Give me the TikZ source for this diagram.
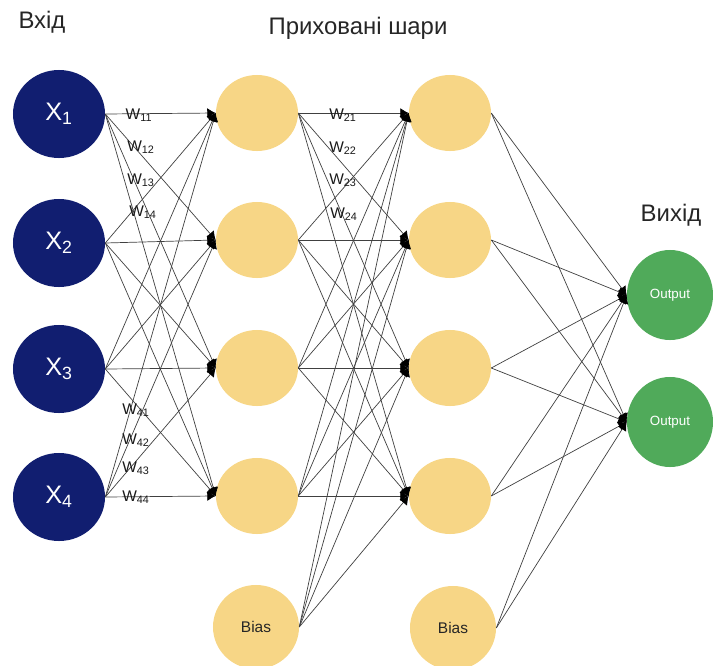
\documentclass[tikz,border=0pt]{standalone}
\usepackage{fontspec}
\setmainfont{Liberation Sans}
\usetikzlibrary{arrows.meta,shapes.geometric}

\definecolor{inblue}{RGB}{17,30,112}
\definecolor{hidyellow}{RGB}{247,214,134}
\definecolor{outgreen}{RGB}{80,170,90}

\begin{document}
\begin{tikzpicture}[
    x=0.025cm, y=-0.025cm,
    >={Latex[length=6pt,width=7pt,color=black]},
    % Styles for the neurons and links
    inneuron/.style={ellipse, fill=inblue, text=white, inner sep=0pt, minimum width=2.3cm, minimum height=2.2cm, font=\fontsize{18}{18}\selectfont},
    hidneuron/.style={ellipse, fill=hidyellow, inner sep=0pt, minimum width=2.05cm, minimum height=1.9cm},
    biasneuron/.style={hidneuron, minimum width=2.15cm, minimum height=2.1cm, text=black!85, font=\fontsize{11}{11}\selectfont},
    outneuron/.style={ellipse, fill=outgreen, text=white, inner sep=0pt, minimum width=2.15cm, minimum height=2.25cm, font=\fontsize{9.5}{9.5}\selectfont},
    link/.style={->, line width=0.5pt, draw=black!75},
    weight/.style={inner sep=0pt, text=black!90, font=\fontsize{11}{11}\selectfont},
    title/.style={inner sep=0pt, text=black!85, font=\fontsize{17}{17}\selectfont}
]
    \useasboundingbox (0,0) rectangle (713,666);

    % =========================================================================
    % 1. TITLES
    % =========================================================================
    \node[title] (t_in) at (42,22) {Вхід};
    \node[title] (t_hid) at (358,28) {Приховані шари};
    \node[title] (t_out) at (671,215) {Вихід};

    % =========================================================================
    % 2. INPUT LAYER
    % =========================================================================
    \node[inneuron] (x1) at (59,114) {X\textsubscript{1}};
    \node[inneuron] (x2) at (59,243) {X\textsubscript{2}};
    \node[inneuron] (x3) at (59,369) {X\textsubscript{3}};
    \node[inneuron] (x4) at (59,497) {X\textsubscript{4}};

    % =========================================================================
    % 3. HIDDEN LAYERS (with bias)
    % =========================================================================
    \node[hidneuron] (h1) at (257,113) {};
    \node[hidneuron] (h2) at (257,240) {};
    \node[hidneuron] (h3) at (257,368) {};
    \node[hidneuron] (h4) at (257,496) {};
    \node[biasneuron] (b1) at (256,627) {Bias};

    \node[hidneuron] (g1) at (450,113) {};
    \node[hidneuron] (g2) at (450,240) {};
    \node[hidneuron] (g3) at (450,368) {};
    \node[hidneuron] (g4) at (450,496) {};
    \node[biasneuron] (b2) at (453,628) {Bias};

    % =========================================================================
    % 4. OUTPUT LAYER
    % =========================================================================
    \node[outneuron] (o1) at (670,295) {Output};
    \node[outneuron] (o2) at (670,422) {Output};

    % =========================================================================
    % 5. LINKS
    % =========================================================================
    \foreach \i in {1,...,4}
        \foreach \j in {1,...,4} {
            \draw[link] (x\i.east) -- (h\j.west);
            \draw[link] (h\i.east) -- (g\j.west);
        }
    \foreach \j in {1,...,4}
        \draw[link] (b1.east) -- (g\j.west);
    \foreach \i in {1,...,4}
        \foreach \j in {1,2}
            \draw[link] (g\i.east) -- (o\j.west);
    \draw[link] (b2.east) -- (o1.west);
    \draw[link] (b2.east) -- (o2.west);

    % Weight labels
    \node[weight] (w11) at (139,115) {W\textsubscript{11}};
    \node[weight] (w12) at (141,147) {W\textsubscript{12}};
    \node[weight] (w13) at (141,180) {W\textsubscript{13}};
    \node[weight] (w14) at (143,212) {W\textsubscript{14}};
    \node[weight] (w41) at (136,410) {W\textsubscript{41}};
    \node[weight] (w42) at (136,440) {W\textsubscript{42}};
    \node[weight] (w43) at (136,468) {W\textsubscript{43}};
    \node[weight] (w44) at (136,497) {W\textsubscript{44}};
    \node[weight] (w21) at (343,115) {W\textsubscript{21}};
    \node[weight] (w22) at (343,148) {W\textsubscript{22}};
    \node[weight] (w23) at (343,180) {W\textsubscript{23}};
    \node[weight] (w24) at (344,214) {W\textsubscript{24}};

\end{tikzpicture}
\end{document}
